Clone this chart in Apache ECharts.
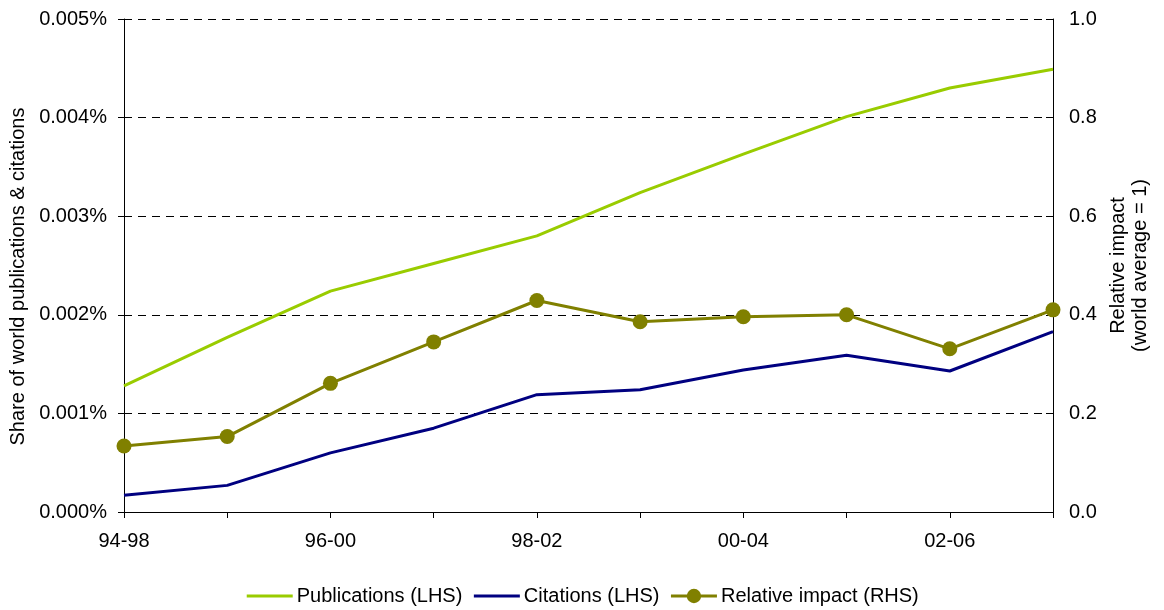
<!DOCTYPE html>
<html>
<head>
<meta charset="utf-8">
<script src="https://cdn.jsdelivr.net/npm/echarts@6/dist/echarts.min.js"></script>
<style>
  html, body { margin: 0; padding: 0; background: #fff; }
  #chart { width: 1164px; height: 610px; }
</style>
</head>
<body>
<div id="chart"></div>
<script>
// Five-year citation windows
const periods = ['94-98', '95-99', '96-00', '97-01', '98-02', '99-03', '00-04', '01-05', '02-06', '03-07'];
// Share of world totals, in percent (left axis)
const publications = [0.00128, 0.00177, 0.00224, 0.00252, 0.00280, 0.00324, 0.00363, 0.00401, 0.00430, 0.00449];
const citations = [0.00017, 0.00027, 0.00060, 0.00085, 0.00119, 0.00124, 0.00144, 0.00159, 0.00143, 0.00183];
// Relative impact, world average = 1 (right axis)
const relativeImpact = [0.134, 0.153, 0.261, 0.345, 0.429, 0.386, 0.396, 0.400, 0.331, 0.410];

const FONT = '"Liberation Sans", Arial, sans-serif';
const chart = echarts.init(document.getElementById('chart'), null, { renderer: 'canvas' });

const gridLine = { show: true, lineStyle: { color: '#000', type: [8, 6], width: 1 } };

chart.setOption({
  animation: false,
  backgroundColor: '#fff',
  textStyle: { fontFamily: FONT },
  grid: { left: 124, right: 111, top: 19, bottom: 98, containLabel: false },
  legend: {
    left: 'center',
    top: 581,
    itemWidth: 46,
    itemHeight: 18,
    itemGap: 10,
    lineStyle: { width: 3 },
    textStyle: { fontSize: 20, color: '#000', padding: [0, 0, 0, -1] },
    data: [
      { name: 'Publications (LHS)', itemStyle: { opacity: 0 } },
      { name: 'Citations (LHS)', itemStyle: { opacity: 0 } },
      { name: 'Relative impact (RHS)' }
    ]
  },
  xAxis: {
    type: 'category',
    data: periods,
    boundaryGap: false,
    axisLine: { lineStyle: { color: '#000', width: 1 } },
    axisTick: { show: true, interval: 0, length: 6, lineStyle: { color: '#000' } },
    axisLabel: { interval: 1, color: '#000', fontSize: 20, margin: 19 },
    splitLine: { show: false }
  },
  yAxis: [
    {
      type: 'value',
      min: 0, max: 0.005, interval: 0.001,
      position: 'left',
      name: 'Share of world publications & citations',
      nameLocation: 'middle',
      nameRotate: 90,
      nameGap: 96,
      nameTextStyle: { fontSize: 20, color: '#000', padding: [0, 22, 0, 0] },
      axisLine: { show: true, lineStyle: { color: '#000', width: 1 } },
      axisTick: { show: true, length: 6, lineStyle: { color: '#000' } },
      axisLabel: { color: '#000', fontSize: 20, margin: 17, formatter: v => v.toFixed(3) + '%' },
      splitLine: gridLine
    },
    {
      type: 'value',
      min: 0, max: 1, interval: 0.2,
      position: 'right',
      name: 'Relative impact\n(world average = 1)',
      nameLocation: 'middle',
      nameRotate: 90,
      nameGap: 54,
      nameTextStyle: { fontSize: 20, color: '#000', lineHeight: 22, align: 'center' },
      axisLine: { show: true, lineStyle: { color: '#000', width: 1 } },
      axisTick: { show: true, inside: true, length: 7, lineStyle: { color: '#000' } },
      axisLabel: { color: '#000', fontSize: 20, margin: 16, formatter: v => v.toFixed(1) },
      splitLine: { show: false }
    }
  ],
  series: [
    {
      name: 'Publications (LHS)', type: 'line', yAxisIndex: 0, data: publications,
      showSymbol: false, symbol: 'none',
      lineStyle: { color: '#99CC00', width: 3 }, itemStyle: { color: '#99CC00' }
    },
    {
      name: 'Citations (LHS)', type: 'line', yAxisIndex: 0, data: citations,
      showSymbol: false, symbol: 'none',
      lineStyle: { color: '#000080', width: 3 }, itemStyle: { color: '#000080' }
    },
    {
      name: 'Relative impact (RHS)', type: 'line', yAxisIndex: 1, data: relativeImpact,
      symbol: 'circle', symbolSize: 15, showSymbol: true,
      lineStyle: { color: '#808000', width: 3 }, itemStyle: { color: '#808000' }
    }
  ]
});
</script>
</body>
</html>
